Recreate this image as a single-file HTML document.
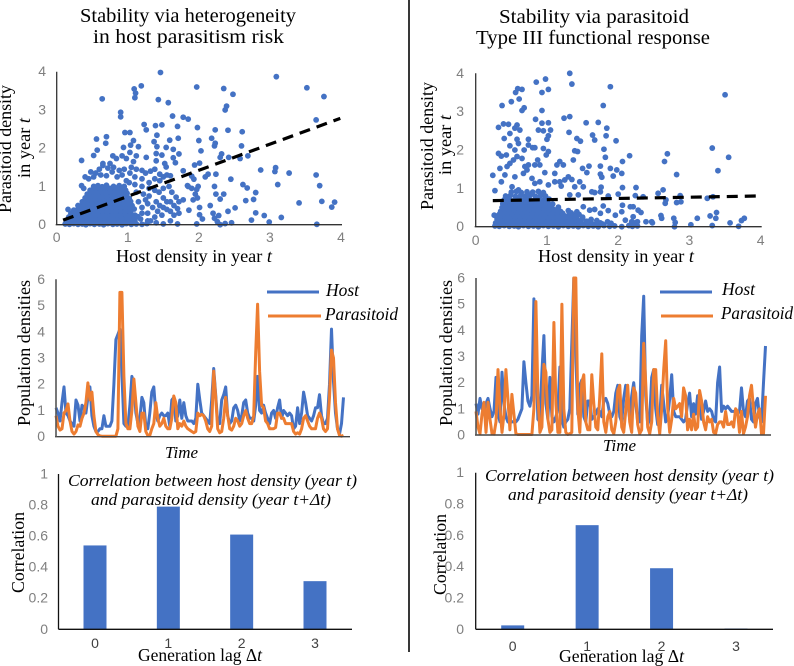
<!DOCTYPE html>
<html>
<head>
<meta charset="utf-8">
<title>Host-parasitoid stability comparison</title>
<style>
html,body{margin:0;padding:0;background:#fff;}
svg{display:block;filter:blur(0.35px);}
.serif{font-family:"Liberation Serif",serif;fill:#000;}
.tick{font-family:"Liberation Sans",sans-serif;font-size:14px;fill:#7f7f7f;}
</style>
</head>
<body>
<svg id="fig" width="794" height="666" viewBox="0 0 794 666" xmlns="http://www.w3.org/2000/svg">
<rect x="0" y="0" width="794" height="666" fill="#fff"/>
<line x1="409" y1="0" x2="409" y2="652" stroke="#222" stroke-width="1.8"/>

<text class="serif" font-size="19.5" x="80" y="22" textLength="216" lengthAdjust="spacingAndGlyphs">Stability via heterogeneity</text>
<text class="serif" font-size="19.5" x="93" y="43" textLength="191" lengthAdjust="spacingAndGlyphs">in host parasitism risk</text>
<text class="serif" font-size="19.5" x="499" y="23" textLength="190" lengthAdjust="spacingAndGlyphs">Stability via parasitoid</text>
<text class="serif" font-size="19.5" x="476" y="44" textLength="234" lengthAdjust="spacingAndGlyphs">Type III functional response</text>

<text class="serif" font-size="18" transform="translate(11,213) rotate(-90)" textLength="128" lengthAdjust="spacingAndGlyphs">Parasitoid density</text>
<text class="serif" font-size="18" transform="translate(30,178) rotate(-90)" textLength="60" lengthAdjust="spacingAndGlyphs">in year <tspan font-style="italic">t</tspan></text>
<text class="serif" font-size="18" x="116" y="262" textLength="156" lengthAdjust="spacingAndGlyphs">Host density in year <tspan font-style="italic">t</tspan></text>
<text class="serif" font-size="18" transform="translate(433,210) rotate(-90)" textLength="128" lengthAdjust="spacingAndGlyphs">Parasitoid density</text>
<text class="serif" font-size="18" transform="translate(451,175) rotate(-90)" textLength="60" lengthAdjust="spacingAndGlyphs">in year <tspan font-style="italic">t</tspan></text>
<text class="serif" font-size="18" x="538" y="262" textLength="156" lengthAdjust="spacingAndGlyphs">Host density in year <tspan font-style="italic">t</tspan></text>

<text class="serif" font-size="18" transform="translate(30,426) rotate(-90)" textLength="146" lengthAdjust="spacingAndGlyphs">Population densities</text>
<text class="serif" font-size="18" transform="translate(452,426) rotate(-90)" textLength="146" lengthAdjust="spacingAndGlyphs">Population densities</text>
<text class="serif" font-size="17" font-style="italic" x="165" y="458" textLength="33" lengthAdjust="spacingAndGlyphs">Time</text>
<text class="serif" font-size="17" font-style="italic" x="603" y="451" textLength="33" lengthAdjust="spacingAndGlyphs">Time</text>

<line x1="267" y1="292" x2="319" y2="292" stroke="#4472c4" stroke-width="3"/>
<text class="serif" font-size="18" font-style="italic" x="326" y="296" textLength="33" lengthAdjust="spacingAndGlyphs">Host</text>
<line x1="268" y1="316" x2="321" y2="316" stroke="#ed7d31" stroke-width="3"/>
<text class="serif" font-size="18" font-style="italic" x="325" y="320" textLength="73" lengthAdjust="spacingAndGlyphs">Parasitoid</text>
<line x1="660" y1="292" x2="712" y2="292" stroke="#4472c4" stroke-width="3"/>
<text class="serif" font-size="18" font-style="italic" x="722" y="295" textLength="33" lengthAdjust="spacingAndGlyphs">Host</text>
<line x1="661" y1="316" x2="713" y2="316" stroke="#ed7d31" stroke-width="3"/>
<text class="serif" font-size="18" font-style="italic" x="721" y="319" textLength="72" lengthAdjust="spacingAndGlyphs">Parasitoid</text>

<text class="serif" font-size="18" transform="translate(24,593) rotate(-90)" textLength="81" lengthAdjust="spacingAndGlyphs">Correlation</text>
<text class="serif" font-size="18" transform="translate(446,595) rotate(-90)" textLength="81" lengthAdjust="spacingAndGlyphs">Correlation</text>
<text class="serif" font-size="18" x="138" y="661" textLength="124" lengthAdjust="spacingAndGlyphs">Generation lag Δ<tspan font-style="italic">t</tspan></text>
<text class="serif" font-size="18" x="559" y="662" textLength="125" lengthAdjust="spacingAndGlyphs">Generation lag Δ<tspan font-style="italic">t</tspan></text>
<g id="charts"></g>
<text class="serif" font-size="17" font-style="italic" x="68" y="486" textLength="289" lengthAdjust="spacingAndGlyphs">Correlation between host density (year t)</text>
<text class="serif" font-size="17" font-style="italic" x="91" y="505" textLength="240" lengthAdjust="spacingAndGlyphs">and parasitoid density (year t+Δt)</text>
<text class="serif" font-size="17" font-style="italic" x="485" y="481" textLength="289" lengthAdjust="spacingAndGlyphs">Correlation between host density (year t)</text>
<text class="serif" font-size="17" font-style="italic" x="508" y="500" textLength="240" lengthAdjust="spacingAndGlyphs">and parasitoid density (year t+Δt)</text>
</svg>
<script>
// ---------- data ----------
const scatterTicks = [0, 1, 2, 3, 4];
const lineTicks = [0, 1, 2, 3, 4, 5, 6];
const barTicks = [0, 0.2, 0.4, 0.6, 0.8, 1];
const lagCategories = [0, 1, 2, 3];
const leftCorrelation = [0.54, 0.79, 0.61, 0.31];
const rightCorrelation = [0.025, 0.665, 0.39, 0.005];
const leftTrendHost = [0.09, 3.99];
const leftTrendPara = [0.12, 2.78];
const rightTrendHost = [0.24, 3.94];
const rightTrendPara = [0.68, 0.80];

const leftScatter = [
[1.46,3.98],[3.09,3.87],[3.52,3.58],[3.76,3.35],[1.97,3.6],[2.35,3.56],[2.48,3.41],[1.19,3.63],[1.09,3.55],[1.11,3.44],[1.1,3.32],[1.43,3.27],[1.57,3.19],[0.64,3.29],[2.39,3.1],[2.37,3],[0.9,2.94],[0.9,2.82],[1.63,2.84],[1.78,2.81],[1.85,2.76],[3.65,2.74],[1.23,2.62],[1.26,2.48],[1.39,2.59],[1.48,2.61],[1.7,2.57],[1.98,2.54],[2.23,2.48],[2.41,2.47],[2.61,2.43],
[0.56,2.24],[0.7,2.3],[0.69,2.13],[0.57,1.95],[0.52,1.81],[0.35,1.68],[0.96,2.41],[1.03,2.41],[1.08,2.2],[1.04,2.08],[0.94,2.02],[1.15,2.04],[1.03,1.89],[0.79,1.8],[0.84,1.73],[0.92,1.8],[0.98,1.73],[1.08,1.65],[1.12,1.8],[1.26,1.76],
[1.41,2.34],[1.37,2.17],[1.41,2.04],[1.54,2.02],[1.59,2.21],[1.71,2.26],[1.64,1.97],[1.72,1.85],[1.64,1.75],[1.67,1.62],[1.4,1.86],[1.48,1.82],[1.4,1.67],[1.52,1.6],[1.54,1.51],
[2,2.2],[2.03,1.93],[2.18,2.26],[2.23,2.13],[2.22,2.06],[2.6,2.06],[2.32,1.85],[2.3,1.76],[2.42,1.76],[2.58,1.73],[2.69,1.8],[1.94,1.56],[2.01,1.61],[1.78,1.41],[2.13,1.32],[2.09,1.25],[2.24,1.32],[1.9,1.27],[1.93,1.19],[2.45,1.19],[2.87,1.43],[3.07,1.39],[3.08,1.49],[3.27,1.35],[3.65,1.3],[3.11,1.05],[3.7,1.02],[2.62,1.05],[2.68,0.96],[2.22,1],[2.8,0.84],[2.24,0.8],[2.35,0.8],[2.3,0.67],[2.66,0.63],[2.77,0.66],[3.41,0.57],[3.73,0.61],[3.87,0.46],[3.91,0.59],[2.16,0.5],[2.01,0.45],[2.51,0.44],[2.41,0.35],[1.86,0.38],[2.8,0.31],[2.01,0.26],[2.05,0.15],[2.2,0.3],[2.28,0.24],[2.22,0.17],[2.92,0.24],[3.16,0.19],[2.74,0.12],[2.99,0.07],[2.26,0.08],[2.46,0.05],[2.37,0.03],[2.3,0],[1.97,0.02],[3.66,0.01],
[1.05,1.5],[1.12,1.45],[1.2,1.42],[1.25,1.35],[1.32,1.4],[1.38,1.45],[1.45,1.32],[1.5,1.25],[1.55,1.3],[1.6,1.28],[1.45,1.15],[1.38,1.2],[1.3,1.1],[1.2,1.2],[1.1,1.25],[1.03,1.35],[0.95,1.45],[0.88,1.42],[0.8,1.5],[0.72,1.48],[0.65,1.55],[0.6,1.45],[0.55,1.35],[0.48,1.38],[0.4,1.25],[0.45,1.2],[0.52,1.25],[0.62,1.3],[0.7,1.28],[0.78,1.38],[0.85,1.25],[0.92,1.3],[0.98,1.15],[0.35,1.02],[0.38,0.95],[0.75,1.6],[0.65,1.6],
[1.02,1.1],[1.1,1.05],[1.2,1],[1.3,0.95],[1.38,0.9],[1.44,0.85],[1.5,0.95],[1.58,1],[1.62,0.85],[1.68,0.72],[1.72,0.6],[1.78,0.65],[1.5,0.7],[1.55,0.6],[1.6,0.6],[1.65,0.5],[1.7,0.42],[1.72,0.3],[1.65,0.25],[1.6,0.1],[1.7,0.02],[1.4,0.6],[1.45,0.5],[1.5,0.45],[1.55,0.4],[1.6,0.35],[1.35,0.45],[1.42,0.35],[1.48,0.25],[1.38,0.2],[1.32,0.1],[1.4,0.05],[1.5,0.02],[1.28,0.3],[1.2,0.45],[1.15,0.6],[1.25,0.65],[1.3,0.75],[1.22,0.8],[1.12,0.85],[1.85,1],[1.9,0.95],[1.97,0.92],[1.95,0.8],[1.99,1],[1.98,0.7],[1.92,0.65],[1.84,1.02],[1.28,0.1],[1.18,0.15],[1.1,0.25],[1.2,0.3],[1.28,0.55],
[0.12,0.02],[0.18,0.01],[0.24,0.03],[0.3,0.01],[0.36,0.02],[0.41,0],[0.47,0.03],[0.53,0.01],[0.6,0.02],[0.66,0],[0.72,0.03],[0.79,0.01],[0.85,0.02],[0.92,0],[0.98,0.03],[1.05,0.01],[1.12,0.02],[1.2,0.01],[1.27,0.03],
[0.14,0.1],[0.2,0.12],[0.27,0.09],[0.33,0.11],[0.4,0.1],[0.46,0.13],[0.52,0.09],[0.58,0.11],[0.65,0.1],[0.71,0.12],[0.77,0.09],[0.84,0.11],[0.9,0.1],[0.96,0.13],[1.03,0.09],[1.1,0.11],
[0.17,0.2],[0.24,0.22],[0.3,0.19],[0.37,0.21],[0.43,0.2],[0.49,0.23],[0.56,0.19],[0.62,0.21],[0.68,0.2],[0.75,0.22],[0.81,0.19],[0.87,0.21],[0.94,0.2],[1,0.23],[1.07,0.19],[1.14,0.21],
[0.2,0.3],[0.27,0.32],[0.34,0.29],[0.4,0.31],[0.46,0.3],[0.53,0.33],[0.59,0.29],[0.65,0.31],[0.72,0.3],[0.78,0.32],[0.84,0.29],[0.91,0.31],[0.97,0.3],[1.04,0.33],
[0.16,0.4],[0.24,0.38],[0.3,0.41],[0.37,0.4],[0.43,0.42],[0.5,0.39],[0.56,0.41],[0.62,0.4],[0.69,0.42],[0.75,0.39],[0.81,0.41],[0.88,0.4],[0.94,0.42],[1.01,0.39],[1.09,0.41],
[0.3,0.5],[0.36,0.52],[0.42,0.49],[0.48,0.51],[0.55,0.5],[0.61,0.53],[0.67,0.49],[0.74,0.51],[0.8,0.5],[0.86,0.52],[0.93,0.49],[0.99,0.51],[1.06,0.5],
[0.36,0.6],[0.41,0.62],[0.47,0.59],[0.53,0.61],[0.59,0.6],[0.66,0.63],[0.72,0.59],[0.78,0.61],[0.85,0.6],[0.91,0.62],[0.97,0.59],[1.04,0.61],
[0.4,0.7],[0.46,0.72],[0.52,0.69],[0.58,0.71],[0.64,0.7],[0.7,0.73],[0.77,0.69],[0.83,0.71],[0.9,0.7],[0.96,0.72],[1.02,0.69],
[0.43,0.8],[0.49,0.82],[0.55,0.79],[0.61,0.81],[0.68,0.8],[0.74,0.83],[0.8,0.79],[0.87,0.81],[0.93,0.8],[0.99,0.82],
[0.47,0.9],[0.53,0.92],[0.6,0.89],[0.66,0.91],[0.72,0.9],[0.78,0.93],[0.85,0.89],[0.91,0.91],[0.97,0.9],
[0.52,1],[0.58,1.02],[0.64,0.99],[0.7,1.03],[0.8,1],[0.88,1.02],[0.95,1],
[0.17,0.06],[0.23,0.05],[0.3,0.07],[0.37,0.06],[0.43,0.05],[0.5,0.07],[0.55,0.05],[0.62,0.07],[0.68,0.06],[0.75,0.05],[0.81,0.07],[0.88,0.06],[0.94,0.05],[1,0.07],[1.07,0.05],
[0.2,0.15],[0.26,0.16],[0.31,0.14],[0.36,0.16],[0.43,0.15],[0.5,0.16],[0.55,0.14],[0.61,0.16],[0.68,0.15],[0.74,0.16],[0.8,0.14],[0.87,0.16],[0.93,0.15],[0.99,0.16],[1.06,0.14],
[0.23,0.26],[0.29,0.25],[0.36,0.26],[0.41,0.24],[0.46,0.26],[0.52,0.25],[0.58,0.26],[0.65,0.24],[0.71,0.26],[0.78,0.25],[0.84,0.26],[0.9,0.24],[0.97,0.26],[1.03,0.25],
[0.26,0.36],[0.33,0.35],[0.39,0.36],[0.45,0.34],[0.51,0.36],[0.58,0.35],[0.64,0.36],[0.71,0.34],[0.77,0.36],[0.83,0.35],[0.9,0.36],[0.96,0.34],[1.03,0.36],
[0.33,0.46],[0.39,0.45],[0.45,0.46],[0.52,0.44],[0.58,0.46],[0.64,0.45],[0.71,0.46],[0.77,0.44],[0.83,0.46],[0.9,0.45],[0.96,0.46],[1.03,0.44],
[0.39,0.56],[0.44,0.55],[0.5,0.56],[0.57,0.54],[0.63,0.56],[0.69,0.55],[0.76,0.56],[0.82,0.54],[0.88,0.56],[0.95,0.55],[1.01,0.56],
[0.44,0.66],[0.49,0.65],[0.55,0.66],[0.61,0.64],[0.67,0.66],[0.74,0.65],[0.8,0.66],[0.87,0.64],[0.93,0.66],[0.99,0.65],
[0.47,0.76],[0.52,0.75],[0.58,0.76],[0.65,0.74],[0.71,0.76],[0.78,0.75],[0.84,0.76],[0.9,0.74],[0.96,0.76],
[0.5,0.86],[0.56,0.85],[0.63,0.86],[0.69,0.84],[0.75,0.86],[0.82,0.85],[0.88,0.86],[0.94,0.84],
[0.55,0.96],[0.61,0.95],[0.67,0.96],[0.75,0.95],[0.84,0.96],[0.92,0.95]
];

const rightScatter = [
[1.32,4],[1.35,3.72],[0.85,3.77],[0.98,3.85],[1.89,3.65],[0.93,3.5],[1.02,3.58],[0.59,3.6],[0.65,3.58],[0.56,3.5],[0.61,3.33],[0.5,3.26],[0.37,3.16],[0.68,3.1],[0.65,3.03],[0.93,3.03],[1.79,3.16],[3.5,3.44],[1.32,2.87],[1.24,2.83],[0.84,2.8],[1.55,2.71],[1.72,2.72],[0.93,2.7],[1.02,2.71],[1.84,2.57],[0.32,2.59],[0.39,2.68],[0.46,2.67],[0.58,2.65],[0.55,2.57],[0.62,2.52],[0.88,2.52],[0.95,2.5],[1.05,2.52],[1.31,2.46],[0.48,2.43],[0.4,2.3],[0.58,2.28],[0.6,2.17],[0.74,2.28],[1.02,2.37],[1,2.28],[1.42,2.3],[1.47,2.23],[1.64,2.39],[1.67,2.26],[1.83,2.37],[1.97,2.24],[0.48,2.11],[0.74,2.13],[0.55,2],[0.68,2],[0.8,2.06],[0.83,2.06],[0.95,2.04],[1.8,2.02],[1.39,1.98],[1.43,1.96],[1.02,1.96],[0.99,1.87],[0.32,1.91],[0.36,1.84],[0.43,1.87],[1.82,1.81],[2.16,1.85],[2.69,1.9],[2.65,1.7],[2.06,1.7],[3.32,2.05],[3.55,1.81],[3.4,1.46],[2.82,1.36],[0.24,1.34],
[1.37,1.74],[1.18,1.7],[1.14,1.61],[1.23,1.61],[1.59,1.58],[1.75,1.58],[1.5,1.52],[1.89,1.52],[1.98,1.48],[1.56,1.41],[1.75,1.37],[1.77,1.29],[1.93,1.32],[2.05,1.39],[1.11,1.39],[0.97,1.41],[0.48,1.65],[0.44,1.57],[0.34,1.52],[0.41,1.35],[0.36,1.17],[0.27,0.94],
[0.87,1.74],[0.83,1.61],[0.9,1.61],[0.58,1.83],[0.65,1.78],[0.53,1.74],[0.69,1.57],[0.74,1.61],[0.55,1.3],[0.67,1.39],[0.72,1.48],[0.79,1.26],[0.83,1.13],[0.9,1.17],[0.51,1.04],[0.6,0.96],[1.3,1.3],[1.35,1.23],[1.18,1.17],[1.25,1.22],[1.11,1.17],[1.02,1.09],[1.46,1.17],[1.2,1.06],[1.39,1.04],[1.51,1.04],[1.76,1.03],[2.06,1.02],[2.25,1.02],[2.63,0.96],[2.56,0.87],[1.63,0.91],[1.67,0.89],[1.75,0.91],[1.32,0.83],[1.44,0.83],[1.86,0.8],[2,0.85],[2.24,0.81],[2.35,0.78],[2.67,0.7],[2.66,0.61],[2.87,0.81],[2.82,0.63],[2.88,0.65],[3.25,0.74],[3.33,0.78],
[1.51,0.52],[1.79,0.54],[2.06,0.56],[2.17,0.52],[2.21,0.52],[2.28,0.43],[2.32,0.37],[1.6,0.43],[1.67,0.45],[1.75,0.35],[1.86,0.42],[2.05,0.39],[1.96,0.3],[2.21,0.26],[2.6,0.29],[2.61,0.22],[2.78,0.22],[2.8,0.11],[3.11,0.22],[3.29,0.28],[3.37,0.22],[3.38,0.37],[3.77,0.22],[3.73,0.16],[3.57,0.1],[2.39,0.13],[2.47,0.13],[3.02,0.05],[2.79,0],[3.32,0.03],[3.69,0.01],[2.48,0.1],[2.1,0.17],[2.19,0.13],[2.27,0.13],
[0.27,0.02],[0.33,0.01],[0.4,0.03],[0.47,0.01],[0.54,0.02],[0.6,0],[0.67,0.03],[0.74,0.01],[0.81,0.02],[0.88,0],[0.95,0.03],[1.02,0.01],[1.09,0.02],[1.16,0],[1.23,0.03],[1.3,0.01],[1.37,0.02],[1.44,0],[1.51,0.03],[1.58,0.01],[1.65,0.02],[1.72,0],[1.8,0.03],[1.88,0.01],[1.95,0.02],[2.05,0],[2.15,0.03],[2.2,0.01],[2.27,0.02],
[0.28,0.1],[0.35,0.12],[0.42,0.09],[0.49,0.11],[0.56,0.1],[0.63,0.13],[0.7,0.09],[0.77,0.11],[0.84,0.1],[0.91,0.12],[0.98,0.09],[1.05,0.11],[1.12,0.1],[1.19,0.13],[1.26,0.09],[1.33,0.11],[1.4,0.1],[1.47,0.12],[1.54,0.09],[1.62,0.11],[1.75,0.1],[1.85,0.13],[1.9,0.09],[2.25,0.11],
[0.3,0.2],[0.37,0.22],[0.44,0.19],[0.51,0.21],[0.58,0.2],[0.65,0.23],[0.72,0.19],[0.79,0.21],[0.86,0.2],[0.93,0.22],[1,0.19],[1.07,0.21],[1.14,0.2],[1.21,0.23],[1.28,0.19],[1.35,0.21],[1.42,0.2],[1.5,0.22],[1.62,0.19],
[0.26,0.3],[0.33,0.32],[0.4,0.29],[0.47,0.31],[0.54,0.3],[0.61,0.33],[0.68,0.29],[0.75,0.31],[0.82,0.3],[0.89,0.32],[0.96,0.29],[1.03,0.31],[1.1,0.3],[1.17,0.33],[1.24,0.29],[1.31,0.31],[1.38,0.3],[1.45,0.32],
[0.35,0.4],[0.42,0.42],[0.49,0.39],[0.56,0.41],[0.63,0.4],[0.7,0.43],[0.77,0.39],[0.84,0.41],[0.91,0.4],[0.98,0.42],[1.05,0.39],[1.12,0.41],[1.19,0.4],[1.3,0.42],[1.42,0.39],
[0.37,0.5],[0.44,0.52],[0.51,0.49],[0.58,0.51],[0.65,0.5],[0.72,0.53],[0.79,0.49],[0.86,0.51],[0.93,0.5],[1,0.52],[1.07,0.49],[1.16,0.51],
[0.38,0.6],[0.45,0.62],[0.52,0.59],[0.59,0.61],[0.66,0.6],[0.73,0.63],[0.8,0.59],[0.87,0.61],[0.94,0.6],[1.01,0.62],[1.08,0.59],
[0.4,0.7],[0.47,0.72],[0.54,0.69],[0.61,0.71],[0.68,0.7],[0.75,0.73],[0.82,0.69],[0.89,0.71],[0.96,0.7],[1.03,0.72],
[0.42,0.8],[0.49,0.82],[0.56,0.79],[0.63,0.81],[0.7,0.8],[0.77,0.83],[0.84,0.79],[0.91,0.81],[0.98,0.8],
[0.5,0.9],[0.57,0.92],[0.64,0.89],[0.72,0.91],[0.8,0.9],[0.88,0.92],[0.95,0.89],
[0.3,0.06],[0.37,0.05],[0.44,0.07],[0.51,0.05],[0.58,0.06],[0.65,0.07],[0.72,0.05],[0.79,0.06],[0.86,0.07],[0.93,0.05],[1,0.06],[1.07,0.07],[1.14,0.05],[1.21,0.06],[1.28,0.07],[1.35,0.05],[1.42,0.06],[1.5,0.07],[1.58,0.05],[1.68,0.06],[1.78,0.07],
[0.32,0.15],[0.39,0.16],[0.46,0.14],[0.53,0.16],[0.6,0.15],[0.67,0.16],[0.74,0.14],[0.81,0.16],[0.88,0.15],[0.95,0.16],[1.02,0.14],[1.09,0.16],[1.16,0.15],[1.23,0.16],[1.3,0.14],[1.37,0.16],[1.45,0.15],[1.56,0.14],[1.7,0.16],
[0.34,0.25],[0.41,0.26],[0.48,0.24],[0.55,0.26],[0.62,0.25],[0.69,0.26],[0.76,0.24],[0.83,0.26],[0.9,0.25],[0.97,0.26],[1.04,0.24],[1.11,0.26],[1.18,0.25],[1.25,0.26],[1.32,0.24],[1.4,0.26],[1.5,0.25],
[0.37,0.35],[0.44,0.36],[0.51,0.34],[0.58,0.36],[0.65,0.35],[0.72,0.36],[0.79,0.34],[0.86,0.36],[0.93,0.35],[1,0.36],[1.07,0.34],[1.14,0.36],[1.22,0.35],[1.34,0.36],
[0.4,0.45],[0.47,0.46],[0.54,0.44],[0.61,0.46],[0.68,0.45],[0.75,0.46],[0.82,0.44],[0.89,0.46],[0.96,0.45],[1.03,0.46],[1.1,0.44],
[0.41,0.55],[0.48,0.56],[0.55,0.54],[0.62,0.56],[0.69,0.55],[0.76,0.56],[0.83,0.54],[0.9,0.56],[0.97,0.55],[1.04,0.56],
[0.43,0.65],[0.5,0.66],[0.57,0.64],[0.64,0.66],[0.71,0.65],[0.78,0.66],[0.85,0.64],[0.92,0.66],[0.99,0.65]
];

const leftHost = [1.1,0.9,0.6,1.3,1.9,0.9,0.8,0.6,0.5,0.4,1.4,1.2,0.6,1.2,1.1,0.9,1.5,1.9,0.8,0.4,0.2,0.2,0.3,0.3,0.8,0.4,0.4,0.4,0.6,2.0,3.7,3.9,4.1,2.4,0.5,0.4,0.4,1.2,2.3,2.0,0.9,0.5,0.7,1.5,1.3,0.4,0.3,0.9,1.7,1.9,0.9,0.6,0.8,0.9,0.8,0.8,0.9,0.4,1.4,1.5,0.6,0.8,1.4,0.7,1.3,0.8,0.6,0.6,0.6,0.5,0.7,2.0,
1.4,0.9,0.8,0.7,0.6,0.5,1.4,2.6,1.6,0.5,0.5,1.4,1.6,1.9,0.8,0.5,0.6,1.1,1.2,1.0,0.6,0.8,1.3,1.4,0.9,0.7,0.7,0.6,1.2,2.3,1.0,0.9,1.2,0.9,0.7,0.5,0.9,1.0,0.7,1.1,1.4,0.7,1.0,0.9,0.8,0.9,0.8,0.3,0.4,1.1,0.5,0.9,1.7,1.3,0.8,0.7,0.6,0.8,1.1,1.1,1.6,0.8,0.5,0.5,0.7,2.0,4.1,2.1,0.9,0.3,0.1,0.5,1.5];
const leftPara = [0.8,0.4,0.25,0.3,0.9,1.0,1.25,0.6,0.2,0.1,0.2,0.45,0.4,0.7,0.9,1.3,2.05,1.4,1.7,0.8,0.2,0.08,0.03,0.02,0.02,0.02,0.02,0.02,0.02,0.02,0.02,0.3,5.5,5.5,2.3,0.5,0.3,0.3,1.0,2.2,1.3,0.4,0.2,0.9,0.9,0.2,0.05,0.05,0.3,0.5,1.3,0.7,0.4,0.5,0.7,0.4,0.3,0.3,0.7,1.55,1.3,0.3,0.5,0.4,0.6,0.4,0.3,0.25,0.2,0.15,0.2,0.9,
0.8,0.85,0.8,0.6,0.3,0.2,0.4,2.5,1.5,0.3,0.15,0.2,0.7,1.5,0.8,0.3,0.25,0.4,0.7,0.6,0.4,0.5,0.8,1.0,0.7,0.5,0.5,0.8,3.2,5.05,2.5,1.2,1.1,0.6,0.5,0.3,0.3,0.3,0.35,0.9,0.9,0.7,0.7,0.5,0.5,0.5,0.5,0.2,0.1,0.15,0.1,0.3,0.7,0.8,0.6,0.4,0.3,0.3,0.3,0.7,0.9,0.7,0.3,0.2,0.3,1.5,3.3,3.0,1.3,0.3,0.05,0.02,0.05];
const rightHost = [1.2,0.8,1.4,1.0,0.9,1.2,1.4,1.0,0.7,0.9,2.2,0.8,0.5,2.4,1.2,0.7,0.5,0.6,0.5,0.5,0.5,0.6,0.8,1.0,2.8,2.0,1.3,1.1,1.5,5.2,3.0,0.6,0.5,2.4,3.8,1.2,0.6,2.2,0.7,0.5,0.7,1.0,2.6,0.6,0.3,0.5,0.6,1.0,3.5,6.0,3.0,0.8,1.9,2.1,0.7,0.5,1.3,1.3,0.6,0.7,0.8,1.0,
0.9,0.7,1.3,1.4,1.2,0.8,0.7,0.9,1.6,1.9,0.7,0.5,1.4,1.9,1.3,0.6,1.5,2.0,1.2,0.5,0.5,3.8,5.3,1.5,0.4,0.6,2.2,2.5,1.0,0.4,0.7,1.9,1.2,0.5,0.7,1.4,2.3,0.9,0.7,0.7,0.7,0.6,0.5,0.6,1.2,1.6,0.7,1.2,0.8,1.5,1.3,0.6,0.9,1.3,0.9,1.0,0.9,0.6,0.5,2.0,2.6,0.9,1.1,1.0,1.1,1.0,0.9,0.9,0.9,0.8,0.9,1.8,0.9,0.7,1.3,1.4,0.6,0.5,1.2,1.4,0.7,0.5,2.0,3.4];
const rightPara = [0.9,0.3,0.05,0.8,1.25,0.1,1.25,0.6,0.05,0.03,0.5,2.5,1.0,0.1,0.8,2.5,1.4,0.2,1.55,0.8,0.05,0.02,0.02,0.02,0.02,0.02,0.02,0.02,0.02,1.0,5.1,1.5,0.1,0.3,2.7,2.4,0.6,0.1,0.2,4.3,1.2,0.1,0.1,5.0,1.0,0.1,0.02,0.05,0.1,6.0,6.0,1.0,0.1,2.0,2.3,0.5,0.2,0.2,2.3,1.2,0.3,0.2,
1.5,3.1,0.5,0.1,0.7,0.9,0.2,0.05,0.5,1.7,1.9,0.3,0.1,0.9,1.9,0.5,0.1,1.8,1.6,0.4,0.05,0.2,3.5,2.0,0.3,0.05,0.5,2.5,2.5,0.7,0.05,1.0,2.5,3.6,1.0,0.1,0.6,1.4,1.0,1.1,1.2,0.7,1.8,1.5,0.2,0.6,0.2,0.8,0.2,0.3,1.7,1.3,0.5,0.2,0.7,0.5,0.6,0.1,0.05,0.4,0.5,0.5,0.3,0.9,0.4,0.4,0.5,0.3,1.0,0.9,0.1,0.9,0.05,0.3,0.7,1.5,1.9,1.0,0.3,0.8,1.0,0.05,0.05,1.5];

// ---------- helpers ----------
const SVGNS = 'http://www.w3.org/2000/svg';
const root = document.getElementById('charts');
function make(tag, attrs) {
  const el = document.createElementNS(SVGNS, tag);
  for (const k in attrs) el.setAttribute(k, attrs[k]);
  root.appendChild(el);
  return el;
}
function linear(d0, d1, r0, r1) {
  return function (v) { return r0 + (v - d0) / (d1 - d0) * (r1 - r0); };
}
function axisLine(prefix, axis, x1, y1, x2, y2, color, width) {
  const el = make('line', { x1: x1, y1: y1, x2: x2, y2: y2, stroke: color, 'stroke-width': width });
  
  
}
function tickLabel(prefix, axis, text, x, y, anchor, color) {
  const el = make('text', { x: x, y: y, 'text-anchor': anchor, class: 'tick' });
  if (color) el.style.fill = color;
  el.textContent = text;
  
  
}

// ---------- scatter ----------
function drawScatter(prefix, points, trendX, trendY, g) {
  const sx = linear(0, 4, g.x0, g.x1);
  const sy = linear(0, 4, g.y0, g.y1);
  points.forEach(function (p) {
    const c = make('circle', { cx: sx(p[0]), cy: sy(p[1]), r: 2.9, fill: '#4472c4' });
    
    
  });
  axisLine(prefix + '-scatter', 'x', g.x0 - 1, g.y0, g.x1 + 1, g.y0, '#333', 1.3);
  axisLine(prefix + '-scatter', 'y', g.x0, g.y1, g.x0, g.y0, '#333', 1.3);
  const t = make('line', { x1: sx(trendX[0]), y1: sy(trendY[0]), x2: sx(trendX[1]), y2: sy(trendY[1]), stroke: '#000', 'stroke-width': 3.2, 'stroke-dasharray': '11 7' });
  
  
  scatterTicks.forEach(function (v) {
    tickLabel(prefix + '-scatter', 'x', v, sx(v), g.xLabelY, 'middle');
    tickLabel(prefix + '-scatter', 'y', v, g.yLabelX, sy(v) + 4.5, 'end');
  });
}
drawScatter('left', leftScatter, leftTrendHost, leftTrendPara, { x0: 56.7, x1: 341, y0: 224.7, y1: 71.7, xLabelY: 242, yLabelX: 46 });
drawScatter('right', rightScatter, rightTrendHost, rightTrendPara, { x0: 475.7, x1: 760.7, y0: 226.7, y1: 73.3, xLabelY: 245, yLabelX: 464 });

// ---------- line charts ----------
function drawLines(prefix, host, para, g) {
  const sx = linear(0, host.length - 1, g.x0, g.xEnd);
  const sxP = linear(0, para.length - 1, g.x0, g.xEnd);
  const sy = linear(0, 6, g.y0, g.y1);
  function pts(values, scale) {
    return values.map(function (v, i) { return scale(i).toFixed(1) + ',' + sy(v).toFixed(1); }).join(' ');
  }
  const a = make('polyline', { points: pts(host, sx), fill: 'none', stroke: '#4472c4', 'stroke-width': 3, 'stroke-linejoin': 'round' });
  
  
  const b = make('polyline', { points: pts(para, sxP), fill: 'none', stroke: '#ed7d31', 'stroke-width': 3, 'stroke-linejoin': 'round' });
  
  
  axisLine(prefix + '-line', 'x', g.x0 - 1, g.y0, g.axisEnd, g.y0, '#444', 1.4);
  axisLine(prefix + '-line', 'y', g.x0, g.y1, g.x0, g.y0, '#555', 1.6);
  lineTicks.forEach(function (v) {
    tickLabel(prefix + '-line', 'y', v, g.yLabelX, sy(v) + 4.5, 'end');
  });
}
drawLines('left', leftHost, leftPara, { x0: 56, xEnd: 343.5, y0: 436.7, y1: 279.3, axisEnd: 350, yLabelX: 45 });
drawLines('right', rightHost, rightPara, { x0: 476, xEnd: 765.5, y0: 435, y1: 278, axisEnd: 771, yLabelX: 465 });

// ---------- bars ----------
function drawBars(prefix, values, g) {
  const sy = linear(0, 1, g.y0, g.y1);
  const sx = linear(0, lagCategories.length - 1, g.c0, g.c3);
  lagCategories.forEach(function (c, i) {
    const r = make('rect', { x: sx(i) - 11.5, y: sy(values[i]), width: 23, height: g.y0 - sy(values[i]), fill: '#4472c4' });
    
    
    tickLabel(prefix + '-bar', 'x', c, sx(i), g.catY, 'middle', '#404040');
  });
  axisLine(prefix + '-bar', 'x', g.x0, g.y0, g.x1, g.y0, '#111', 1.3);
  axisLine(prefix + '-bar', 'y', g.x0, g.y1, g.x0, g.y0, '#111', 1.3);
  barTicks.forEach(function (v) {
    tickLabel(prefix + '-bar', 'y', v, g.yLabelX, sy(v) + 4.5, 'end');
  });
}
drawBars('left', leftCorrelation, { x0: 58.5, x1: 352, y0: 629.3, y1: 474, c0: 95, c3: 315, catY: 648, yLabelX: 48 });
drawBars('right', rightCorrelation, { x0: 475.7, x1: 773, y0: 629.3, y1: 472.7, c0: 512.7, c3: 736, catY: 651, yLabelX: 464 });
</script>
</body>
</html>
